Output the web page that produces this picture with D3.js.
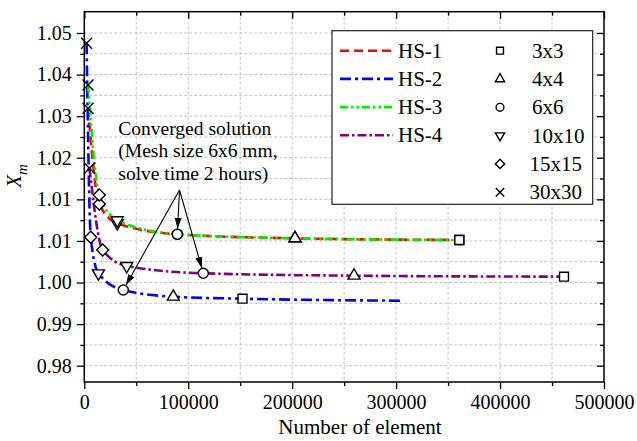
<!DOCTYPE html>
<html>
<head>
<meta charset="utf-8">
<script src="https://cdn.jsdelivr.net/npm/d3@7"></script>
<style>
body { margin: 0; background: #fff; }
text { font-family: "Liberation Serif", "Times New Roman", serif; fill: #000; }
</style>
</head>
<body>
<div id="chart"></div>
<script>
// mesh sizes (marker order) and series
var meshSizes = ["3x3", "4x4", "6x6", "10x10", "15x15", "30x30"];
var seriesNames = ["HS-1", "HS-2", "HS-3", "HS-4"];

// number of elements / Xm for each mesh size, same order as meshSizes
var hs1Elements = [360800, 202700, 89500, 31700, 14400, 3600];
var hs1Xm = [1.00645, 1.0068, 1.00765, 1.0100, 1.01402, 1.03416];
var hs2Elements = [152200, 85600, 37500, 13600, 6200, 2200];
var hs2Xm = [0.99410, 0.99452, 0.99593, 0.99944, 1.00701, 1.04783];
var hs2LineEnd = [304000, 0.99368]; // line goes past the last marker
var hs3Elements = [360800, 202700, 89500, 31700, 14400, 3600];
var hs3Xm = [1.00645, 1.0068, 1.00765, 1.0106, 1.01591, 1.03906];
var hs4Elements = [461500, 259500, 114500, 40800, 17700, 5000];
var hs4Xm = [0.99873, 0.99894, 0.99944, 1.00098, 1.00434, 1.02153];

var xTicks = [0, 100000, 200000, 300000, 400000, 500000];
var xMinorTicks = [50000, 150000, 250000, 350000, 450000];
var yTicks = [0.98, 0.98875, 0.9975, 1.00625, 1.015, 1.02375, 1.0325, 1.04125, 1.05];
var yTickLabels = ["0.98", "0.99", "1.00", "1.01", "1.01", "1.02", "1.03", "1.04", "1.05"];
var yMinorTicks = [0.984375, 0.993125, 1.001875, 1.010625, 1.019375, 1.028125, 1.036875, 1.045625];

var annotation = ["Converged solution", "(Mesh size 6x6 mm,", "solve time 2 hours)"];
var arrowFrom = [91600, 1.01697];

var width = 637, height = 441;
var margin = {top: 11.7, right: 33, bottom: 59, left: 84.3};
var W = width - margin.left - margin.right;
var H = height - margin.top - margin.bottom;

var svg = d3.select("#chart").append("svg")
	.attr("width", width)
	.attr("height", height);

var defs = svg.append("defs");
defs.append("clipPath").attr("id", "clip")
	.append("rect").attr("width", W).attr("height", H);
defs.append("marker")
	.attr("id", "arrow")
	.attr("viewBox", "0 0 10 10")
	.attr("refX", 10).attr("refY", 5)
	.attr("markerWidth", 11).attr("markerHeight", 11)
	.attr("markerUnits", "userSpaceOnUse")
	.attr("orient", "auto")
	.append("path").attr("d", "M0,1.8 L10,5 L0,8.2 Z").attr("fill", "#000");

var x = d3.scaleLinear().domain([0, 500000]).range([0, W]);
var y = d3.scaleLinear().domain([0.97657, 1.05448]).range([H, 0]);

var g = svg.append("g")
	.attr("transform", "translate(" + margin.left + "," + margin.top + ")");

// grid
var grid = g.append("g").attr("stroke", "#c4c4c4").attr("stroke-dasharray", "3,2").attr("stroke-width", 1);
xTicks.concat(xMinorTicks).forEach(function(v) {
	if (v <= 0 || v >= 500000) return;
	grid.append("line").attr("x1", x(v)).attr("x2", x(v)).attr("y1", 0).attr("y2", H);
});
yTicks.concat(yMinorTicks).forEach(function(v) {
	grid.append("line").attr("x1", 0).attr("x2", W).attr("y1", y(v)).attr("y2", y(v));
});

// axes
function styleAxis(sel) {
	sel.selectAll("path").remove();
	sel.selectAll("line").attr("stroke", "#000").attr("stroke-width", 1.3);
	sel.selectAll("text").style("font-size", "20px").attr("fill", "#000");
}
g.append("g").attr("transform", "translate(0," + H + ")")
	.call(d3.axisBottom(x).tickValues(xTicks).tickSize(7).tickPadding(6).tickFormat(d3.format("d")))
	.call(styleAxis);
g.append("g").attr("transform", "translate(0," + H + ")")
	.call(d3.axisBottom(x).tickValues(xMinorTicks).tickSize(4).tickFormat(""))
	.call(styleAxis);
g.append("g")
	.call(d3.axisLeft(y).tickValues(yTicks).tickSize(7.5).tickPadding(5)
		.tickFormat(function(d, i) { return yTickLabels[i]; }))
	.call(styleAxis);
g.append("g")
	.call(d3.axisLeft(y).tickValues(yMinorTicks).tickSize(4).tickFormat(""))
	.call(styleAxis);
g.append("g")
	.call(d3.axisTop(x).tickValues(xTicks).tickSize(-7).tickFormat(""))
	.call(styleAxis);
g.append("g")
	.call(d3.axisTop(x).tickValues(xMinorTicks).tickSize(-4).tickFormat(""))
	.call(styleAxis);
g.append("g").attr("transform", "translate(" + W + ",0)")
	.call(d3.axisRight(y).tickValues(yTicks).tickSize(-7).tickFormat(""))
	.call(styleAxis);
g.append("g").attr("transform", "translate(" + W + ",0)")
	.call(d3.axisRight(y).tickValues(yMinorTicks).tickSize(-4).tickFormat(""))
	.call(styleAxis);

g.append("rect").attr("width", W).attr("height", H)
	.attr("fill", "none").attr("stroke", "#000").attr("stroke-width", 1.5);

// series
var series = [
	{name: "HS-1", xs: hs1Elements, ys: hs1Xm, color: "#ff0000", dash: "9,5"},
	{name: "HS-2", xs: hs2Elements, ys: hs2Xm, color: "#0000ff", dash: "11,4,3,4", tail: hs2LineEnd},
	{name: "HS-3", xs: hs3Elements, ys: hs3Xm, color: "#00ee00", dash: "8,3,2.5,3,2.5,3"},
	{name: "HS-4", xs: hs4Elements, ys: hs4Xm, color: "#800080", dash: "9,3,2.5,3"}
];
series.forEach(function(s) {
	s.points = s.xs.map(function(v, i) { return [v, s.ys[i]]; });
	s.linePoints = s.points.slice();
	if (s.tail) s.linePoints.push(s.tail);
	s.linePoints.sort(function(a, b) { return a[0] - b[0]; });
});

var line = d3.line()
	.x(function(d) { return x(d[0]); })
	.y(function(d) { return y(d[1]); })
	.curve(d3.curveMonotoneX);

var lines = g.append("g").attr("clip-path", "url(#clip)");
series.forEach(function(s) {
	lines.append("path")
		.attr("d", line(s.linePoints))
		.attr("fill", "none")
		.attr("stroke", s.color)
		.attr("stroke-width", 2.6)
		.attr("stroke-dasharray", s.dash);
});

// marker symbols, one per mesh size
var markerTypes = [
	{type: d3.symbolSquare, size: 80, rot: 0},
	{type: d3.symbolTriangle, size: 62, rot: 0},
	{type: d3.symbolCircle, size: 80, rot: 0},
	{type: d3.symbolTriangle, size: 62, rot: 180},
	{type: d3.symbolSquare, size: 72, rot: 45},
	{type: d3.symbolTimes, size: 80, rot: 0}
];
function drawMarker(parent, i, px, py, scale) {
	var m = markerTypes[i];
	parent.append("path")
		.attr("d", d3.symbol().type(m.type).size(m.size * scale)())
		.attr("transform", "translate(" + px + "," + py + ") rotate(" + m.rot + ")")
		.attr("fill", i == 5 ? "none" : "#fff")
		.attr("stroke", "#000")
		.attr("stroke-width", 1.4);
}

var marks = g.append("g");
series.forEach(function(s) {
	s.points.forEach(function(p, i) {
		drawMarker(marks, i, x(p[0]), y(p[1]), 1);
	});
});

// annotation
var ann = g.append("g");
annotation.forEach(function(t, i) {
	ann.append("text")
		.attr("x", 118.3 - margin.left)
		.attr("y", 135 - margin.top + i * 22.4)
		.style("font-size", "19.5px")
		.text(t);
});
[hs1Xm, hs4Xm, hs2Xm].forEach(function(ys, k) {
	var xs = [hs1Elements, hs4Elements, hs2Elements][k];
	var x0 = x(arrowFrom[0]), y0 = y(arrowFrom[1]);
	var x1 = x(xs[2]), y1 = y(ys[2]);
	var dx = x1 - x0, dy = y1 - y0, len = Math.sqrt(dx * dx + dy * dy);
	var r = 5.5;
	ann.append("line")
		.attr("x1", x0).attr("y1", y0)
		.attr("x2", x1 - dx / len * r).attr("y2", y1 - dy / len * r)
		.attr("stroke", "#000").attr("stroke-width", 1.1)
		.attr("marker-end", "url(#arrow)");
});

// legend
var lg = svg.append("g");
lg.append("rect")
	.attr("x", 332).attr("y", 30.7).attr("width", 260.7).attr("height", 173.6)
	.attr("fill", "#fff").attr("stroke", "#222").attr("stroke-width", 1.2);
series.forEach(function(s, i) {
	var ly = 50.7 + i * 28.2;
	lg.append("line")
		.attr("x1", 340).attr("x2", 393).attr("y1", ly).attr("y2", ly)
		.attr("stroke", s.color).attr("stroke-width", 2.6)
		.attr("stroke-dasharray", s.dash);
	lg.append("text").attr("x", 398).attr("y", ly + 7)
		.style("font-size", "21px").text(s.name);
});
meshSizes.forEach(function(m, i) {
	var ly = 50.7 + i * 28.3;
	drawMarker(lg, i, 500, ly, 0.6);
	lg.append("text").attr("x", i >= 4 ? 529.5 : 532).attr("y", ly + 7)
		.style("font-size", "21px").text(m);
});

// axis titles
svg.append("text")
	.attr("x", 360).attr("y", 434)
	.attr("text-anchor", "middle")
	.style("font-size", "21px")
	.text("Number of element");
var yl = svg.append("text")
	.attr("transform", "translate(21,176) rotate(-90)")
	.attr("text-anchor", "middle")
	.style("font-size", "21px")
	.style("font-style", "italic");
yl.append("tspan").text("X");
yl.append("tspan").attr("dy", 6).style("font-size", "15px").text("m");
</script>
</body>
</html>
